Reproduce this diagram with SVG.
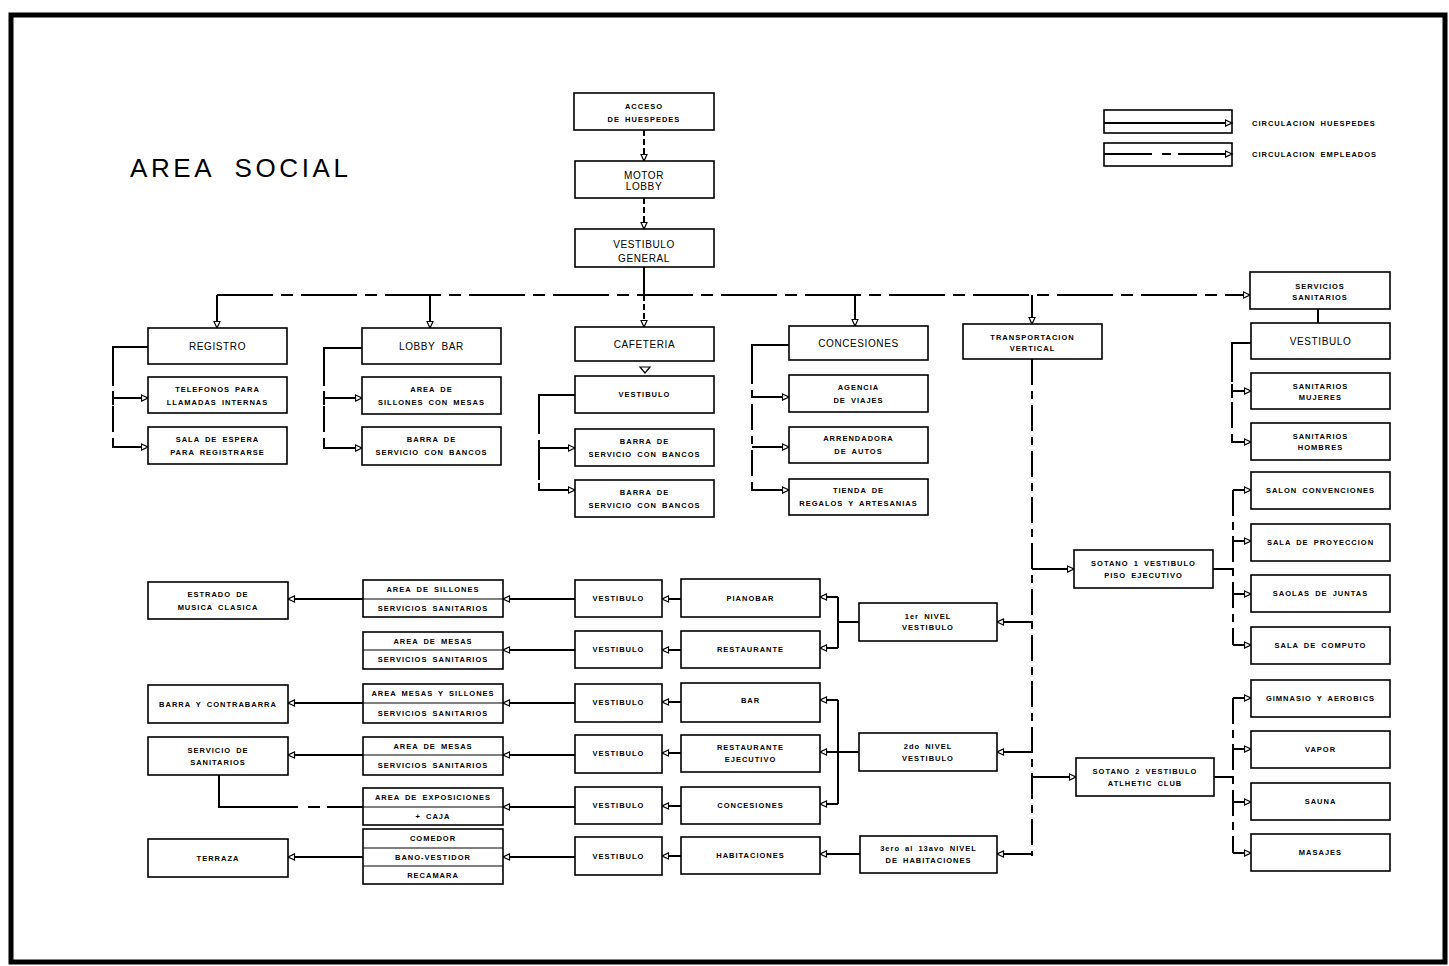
<svg xmlns="http://www.w3.org/2000/svg" width="1449" height="966" viewBox="0 0 1449 966">
<style>
.b{fill:#fff;stroke:#000;stroke-width:1.6}
.dv{stroke:#000;stroke-width:1.2}
.s{font-family:"Liberation Sans",Arial,sans-serif;font-size:7.5px;font-weight:bold;letter-spacing:1px;word-spacing:2px;text-anchor:middle;fill:#000}
.l{font-family:"Liberation Sans",Arial,sans-serif;font-size:10px;letter-spacing:.6px;word-spacing:3px;text-anchor:middle;fill:#000}
.c{fill:none;stroke:#000;stroke-width:2}
.a{marker-end:url(#ar)}
.d{stroke-dasharray:56 8 12 8}
.dv2{stroke-dasharray:26 6 8 6}
.ds{stroke-dasharray:6 3}
.tk{stroke:#000;stroke-width:2}
</style>
<defs>
<marker id="ar" markerUnits="userSpaceOnUse" markerWidth="9" markerHeight="9" refX="7.5" refY="4" orient="auto">
<path d="M1,1 L7.5,4 L1,7 Z" fill="#fff" stroke="#000" stroke-width="1.2"/>
</marker>
</defs>
<rect x="0" y="0" width="1449" height="966" fill="#fff"/>
<rect id="border" x="11" y="15" width="1434" height="947" fill="none" stroke="#000" stroke-width="5"/>
<text id="title" x="130" y="177" font-family="'Liberation Sans',Arial,sans-serif" font-size="26" letter-spacing="3.6" word-spacing="10" fill="#000">AREA SOCIAL</text>

<g id="legend">
<rect class="b" x="1104" y="110" width="128" height="23"/>
<path class="c a" d="M1104,123 H1232"/>
<rect class="b" x="1104" y="143" width="128" height="23"/>
<path class="c" d="M1104,154 H1152 M1162,154 H1171"/>
<path class="c a" d="M1178,154 H1232"/>
<text class="s" x="1252" y="126" style="text-anchor:start">CIRCULACION HUESPEDES</text>
<text class="s" x="1252" y="157" style="text-anchor:start">CIRCULACION EMPLEADOS</text>
</g>

<g id="connectors">
<path class="c a ds" d="M644,130 V161"/>
<path class="c a ds" d="M644,198 V229"/>
<path class="c" d="M644,267 V295"/>
<path class="c d a" d="M217,295 H1250"/>
<path class="c a" d="M217,295 V328"/>
<path class="c a" d="M430,295 V328"/>
<path class="c a ds" d="M644,295 V327"/>
<path class="c a" d="M855,295 V326"/>
<path class="c a" d="M1032,295 V324"/>
<!-- registro -->
<path class="c" d="M148,347 H113 V360"/>
<path class="c dv2" d="M113,360 V440"/>
<path class="c a" d="M113,440 V447 H148"/>
<path class="c a" d="M113,398 H148"/>
<path class="tk" d="M113,391 V405"/>
<!-- lobby bar -->
<path class="c" d="M362,348 H324 V360"/>
<path class="c dv2" d="M324,360 V441"/>
<path class="c a" d="M324,441 V448 H362"/>
<path class="c a" d="M324,398 H362"/>
<path class="tk" d="M324,391 V405"/>
<!-- cafeteria -->
<path d="M640,367 H650 L645,373 Z" fill="#fff" stroke="#000" stroke-width="1.2"/>
<path class="c" d="M575,395 H539 V408"/>
<path class="c dv2" d="M539,408 V483"/>
<path class="c a" d="M539,483 V490 H575"/>
<path class="c a" d="M539,448 H575"/>
<path class="tk" d="M539,441 V455"/>
<!-- concesiones -->
<path class="c" d="M789,345 H752 V358"/>
<path class="c dv2" d="M752,358 V483"/>
<path class="c a" d="M752,483 V490 H789"/>
<path class="c a" d="M752,397 H789"/>
<path class="c a" d="M752,447 H789"/>
<!-- servicios sanitarios -->
<path class="c" d="M1318,309 V323"/>
<path class="c" d="M1251,343 H1232 V356"/>
<path class="c dv2" d="M1232,356 V435"/>
<path class="c a" d="M1232,435 V442 H1251"/>
<path class="c a" d="M1232,391 H1251"/>
<path class="tk" d="M1232,384 V398"/>
<!-- transportacion vertical bus -->
<path class="c dv2" d="M1032,359 V856"/>
<!-- sotano 1 -->
<path class="c a" d="M1032,569 H1074"/>
<path class="c" d="M1213,569 H1233"/>
<path class="c dv2" d="M1233,490 V645"/>
<path class="c a" d="M1233,490 H1251"/>
<path class="c a" d="M1233,541 H1251"/>
<path class="c a" d="M1233,594 H1251"/>
<path class="c a" d="M1233,645 H1251"/>
<!-- sotano 2 -->
<path class="c a" d="M1032,777 H1076"/>
<path class="c" d="M1214,777 H1233"/>
<path class="c dv2" d="M1233,698 V853"/>
<path class="c a" d="M1233,698 H1251"/>
<path class="c a" d="M1233,749 H1251"/>
<path class="c a" d="M1233,802 H1251"/>
<path class="c a" d="M1233,853 H1251"/>
<!-- 1er nivel -->
<path class="c a" d="M1032,622 H997"/>
<path class="c" d="M859,622 H838"/>
<path class="c" d="M838,597 V648"/>
<path class="c a" d="M838,597 H820"/>
<path class="c a" d="M838,648 H820"/>
<!-- 2do nivel -->
<path class="c a" d="M1032,752 H997"/>
<path class="c" d="M859,752 H838"/>
<path class="c" d="M838,700 V804"/>
<path class="c a" d="M838,700 H820"/>
<path class="c a" d="M838,752 H820"/>
<path class="c a" d="M838,804 H820"/>
<!-- 3ero nivel -->
<path class="c a" d="M1032,854 H997"/>
<path class="c a" d="M860,854 H820"/>
<!-- venues to vestibulos -->
<path class="c a" d="M681,599 H662"/>
<path class="c a" d="M681,650 H662"/>
<path class="c a" d="M681,702 H662"/>
<path class="c a" d="M681,753 H662"/>
<path class="c a" d="M681,806 H662"/>
<path class="c a" d="M681,856 H662"/>
<!-- vestibulos to areas -->
<path class="c a" d="M575,599 H503"/>
<path class="c a" d="M575,650 H503"/>
<path class="c a" d="M575,703 H503"/>
<path class="c a" d="M575,755 H503"/>
<path class="c a" d="M575,807 H503"/>
<path class="c a" d="M575,857 H503"/>
<!-- areas to left boxes -->
<path class="c a" d="M363,599 H288"/>
<path class="c a" d="M363,703 H288"/>
<path class="c a" d="M363,755 H288"/>
<path class="c a" d="M363,857 H288"/>
<path class="c" d="M219,775 V807 H298 M308,807 H320 M327,807 H363"/>
</g>

<g id="n-acceso"><rect class="b" x="574" y="93" width="140" height="37"/><text class="s" x="644" y="108.5">ACCESO</text><text class="s" x="644" y="121.5">DE HUESPEDES</text></g>
<g id="n-motor"><rect class="b" x="575" y="161" width="139" height="37"/><text class="l" x="644" y="178.5">MOTOR</text><text class="l" x="644" y="189.5">LOBBY</text></g>
<g id="n-vestgen"><rect class="b" x="575" y="229" width="139" height="38"/><text class="l" x="644" y="247.5">VESTIBULO</text><text class="l" x="644" y="261.5">GENERAL</text></g>

<g id="n-registro"><rect class="b" x="148" y="328" width="139" height="36"/><text class="l" x="217.5" y="349.6">REGISTRO</text></g>
<g id="n-telefonos"><rect class="b" x="148" y="377" width="139" height="36"/><text class="s" x="217.5" y="391.5">TELEFONOS PARA</text><text class="s" x="217.5" y="404.5">LLAMADAS INTERNAS</text></g>
<g id="n-salaespera"><rect class="b" x="148" y="427" width="139" height="37"/><text class="s" x="217.5" y="441.5">SALA DE ESPERA</text><text class="s" x="217.5" y="454.5">PARA REGISTRARSE</text></g>

<g id="n-lobbybar"><rect class="b" x="362" y="328" width="139" height="36"/><text class="l" x="431.5" y="349.6">LOBBY BAR</text></g>
<g id="n-areasillones"><rect class="b" x="362" y="377" width="139" height="37"/><text class="s" x="431.5" y="391.5">AREA DE</text><text class="s" x="431.5" y="404.5">SILLONES CON MESAS</text></g>
<g id="n-barra1"><rect class="b" x="362" y="427" width="139" height="38"/><text class="s" x="431.5" y="442">BARRA DE</text><text class="s" x="431.5" y="455">SERVICIO CON BANCOS</text></g>

<g id="n-cafeteria"><rect class="b" x="575" y="327" width="139" height="34"/><text class="l" x="644.5" y="347.6">CAFETERIA</text></g>
<g id="n-cafvest"><rect class="b" x="575" y="376" width="139" height="37"/><text class="s" x="644.5" y="397">VESTIBULO</text></g>
<g id="n-cafbarra1"><rect class="b" x="575" y="429" width="139" height="37"/><text class="s" x="644.5" y="443.5">BARRA DE</text><text class="s" x="644.5" y="456.5">SERVICIO CON BANCOS</text></g>
<g id="n-cafbarra2"><rect class="b" x="575" y="480" width="139" height="37"/><text class="s" x="644.5" y="494.5">BARRA DE</text><text class="s" x="644.5" y="507.5">SERVICIO CON BANCOS</text></g>

<g id="n-concesiones"><rect class="b" x="789" y="326" width="139" height="34"/><text class="l" x="858.5" y="346.6">CONCESIONES</text></g>
<g id="n-agencia"><rect class="b" x="789" y="375" width="139" height="37"/><text class="s" x="858.5" y="389.5">AGENCIA</text><text class="s" x="858.5" y="402.5">DE VIAJES</text></g>
<g id="n-arrendadora"><rect class="b" x="789" y="427" width="139" height="36"/><text class="s" x="858.5" y="441">ARRENDADORA</text><text class="s" x="858.5" y="454">DE AUTOS</text></g>
<g id="n-tienda"><rect class="b" x="789" y="479" width="139" height="36"/><text class="s" x="858.5" y="493">TIENDA DE</text><text class="s" x="858.5" y="506">REGALOS Y ARTESANIAS</text></g>

<g id="n-transporte"><rect class="b" x="963" y="324" width="139" height="35"/><text class="s" x="1032.5" y="339.5">TRANSPORTACION</text><text class="s" x="1032.5" y="350.5">VERTICAL</text></g>

<g id="n-servsan"><rect class="b" x="1250" y="272" width="140" height="37"/><text class="s" x="1320" y="288.5">SERVICIOS</text><text class="s" x="1320" y="299.5">SANITARIOS</text></g>
<g id="n-vestR"><rect class="b" x="1251" y="323" width="139" height="36"/><text class="l" x="1320.5" y="344.6">VESTIBULO</text></g>
<g id="n-mujeres"><rect class="b" x="1251" y="373" width="139" height="36"/><text class="s" x="1320.5" y="389">SANITARIOS</text><text class="s" x="1320.5" y="400">MUJERES</text></g>
<g id="n-hombres"><rect class="b" x="1251" y="423" width="139" height="37"/><text class="s" x="1320.5" y="439">SANITARIOS</text><text class="s" x="1320.5" y="450">HOMBRES</text></g>
<g id="n-salon"><rect class="b" x="1251" y="472" width="139" height="37"/><text class="s" x="1320.5" y="493">SALON CONVENCIONES</text></g>
<g id="n-proyeccion"><rect class="b" x="1251" y="524" width="139" height="37"/><text class="s" x="1320.5" y="545">SALA DE PROYECCION</text></g>
<g id="n-juntas"><rect class="b" x="1251" y="575" width="139" height="37"/><text class="s" x="1320.5" y="596">SAOLAS DE JUNTAS</text></g>
<g id="n-computo"><rect class="b" x="1251" y="627" width="139" height="37"/><text class="s" x="1320.5" y="648">SALA DE COMPUTO</text></g>
<g id="n-gimnasio"><rect class="b" x="1251" y="680" width="139" height="37"/><text class="s" x="1320.5" y="701">GIMNASIO Y AEROBICS</text></g>
<g id="n-vapor"><rect class="b" x="1251" y="731" width="139" height="37"/><text class="s" x="1320.5" y="752">VAPOR</text></g>
<g id="n-sauna"><rect class="b" x="1251" y="783" width="139" height="37"/><text class="s" x="1320.5" y="804">SAUNA</text></g>
<g id="n-masajes"><rect class="b" x="1251" y="834" width="139" height="37"/><text class="s" x="1320.5" y="855">MASAJES</text></g>

<g id="n-sotano1"><rect class="b" x="1074" y="550" width="139" height="38"/><text class="s" x="1143.5" y="566">SOTANO 1 VESTIBULO</text><text class="s" x="1143.5" y="577.5">PISO EJECUTIVO</text></g>
<g id="n-sotano2"><rect class="b" x="1076" y="758" width="138" height="38"/><text class="s" x="1145" y="774">SOTANO 2 VESTIBULO</text><text class="s" x="1145" y="785.5">ATLHETIC CLUB</text></g>

<g id="n-nivel1"><rect class="b" x="859" y="603" width="138" height="38"/><text class="s" x="928" y="618.5">1er NIVEL</text><text class="s" x="928" y="630">VESTIBULO</text></g>
<g id="n-nivel2"><rect class="b" x="859" y="733" width="138" height="38"/><text class="s" x="928" y="748.5">2do NIVEL</text><text class="s" x="928" y="760.5">VESTIBULO</text></g>
<g id="n-nivel3"><rect class="b" x="860" y="836" width="137" height="37"/><text class="s" x="928.5" y="851">3ero al 13avo NIVEL</text><text class="s" x="928.5" y="863">DE HABITACIONES</text></g>

<g id="n-pianobar"><rect class="b" x="681" y="579" width="139" height="38"/><text class="s" x="750.5" y="600.5">PIANOBAR</text></g>
<g id="n-restaurante"><rect class="b" x="681" y="631" width="139" height="37"/><text class="s" x="750.5" y="652">RESTAURANTE</text></g>
<g id="n-bar"><rect class="b" x="681" y="683" width="139" height="39"/><text class="s" x="750.5" y="703">BAR</text></g>
<g id="n-restej"><rect class="b" x="681" y="735" width="139" height="37"/><text class="s" x="750.5" y="749.5">RESTAURANTE</text><text class="s" x="750.5" y="761.5">EJECUTIVO</text></g>
<g id="n-conc2"><rect class="b" x="681" y="787" width="139" height="37"/><text class="s" x="750.5" y="808">CONCESIONES</text></g>
<g id="n-habitaciones"><rect class="b" x="681" y="837" width="139" height="37"/><text class="s" x="750.5" y="858">HABITACIONES</text></g>

<g id="n-vest1"><rect class="b" x="575" y="580" width="87" height="37"/><text class="s" x="618.5" y="601">VESTIBULO</text></g>
<g id="n-vest2"><rect class="b" x="575" y="631" width="87" height="37"/><text class="s" x="618.5" y="652">VESTIBULO</text></g>
<g id="n-vest3"><rect class="b" x="575" y="684" width="87" height="38"/><text class="s" x="618.5" y="705">VESTIBULO</text></g>
<g id="n-vest4"><rect class="b" x="575" y="735" width="87" height="38"/><text class="s" x="618.5" y="756">VESTIBULO</text></g>
<g id="n-vest5"><rect class="b" x="575" y="787" width="87" height="37"/><text class="s" x="618.5" y="808">VESTIBULO</text></g>
<g id="n-vest6"><rect class="b" x="575" y="837" width="87" height="38"/><text class="s" x="618.5" y="858.5">VESTIBULO</text></g>

<g id="n-area1"><rect class="b" x="363" y="580" width="140" height="37"/><path class="dv" d="M363,599 H503"/><text class="s" x="433" y="592">AREA DE SILLONES</text><text class="s" x="433" y="610.5">SERVICIOS SANITARIOS</text></g>
<g id="n-area2"><rect class="b" x="363" y="632" width="140" height="37"/><path class="dv" d="M363,650 H503"/><text class="s" x="433" y="643.5">AREA DE MESAS</text><text class="s" x="433" y="662">SERVICIOS SANITARIOS</text></g>
<g id="n-area3"><rect class="b" x="363" y="684" width="140" height="39"/><path class="dv" d="M363,703 H503"/><text class="s" x="433" y="696">AREA MESAS Y SILLONES</text><text class="s" x="433" y="715.5">SERVICIOS SANITARIOS</text></g>
<g id="n-area4"><rect class="b" x="363" y="737" width="140" height="38"/><path class="dv" d="M363,755 H503"/><text class="s" x="433" y="748.5">AREA DE MESAS</text><text class="s" x="433" y="767.5">SERVICIOS SANITARIOS</text></g>
<g id="n-area5"><rect class="b" x="363" y="788" width="140" height="37"/><path class="dv" d="M363,807 H503"/><text class="s" x="433" y="800">AREA DE EXPOSICIONES</text><text class="s" x="433" y="818.5">+ CAJA</text></g>
<g id="n-area6"><rect class="b" x="363" y="829" width="140" height="55"/><path class="dv" d="M363,848 H503 M363,866 H503"/><text class="s" x="433" y="841">COMEDOR</text><text class="s" x="433" y="859.5">BANO-VESTIDOR</text><text class="s" x="433" y="877.5">RECAMARA</text></g>

<g id="n-estrado"><rect class="b" x="148" y="582" width="140" height="37"/><text class="s" x="218" y="596.5">ESTRADO DE</text><text class="s" x="218" y="609.5">MUSICA CLASICA</text></g>
<g id="n-barracont"><rect class="b" x="148" y="685" width="140" height="38"/><text class="s" x="218" y="706.5">BARRA Y CONTRABARRA</text></g>
<g id="n-servsanit"><rect class="b" x="148" y="737" width="140" height="38"/><text class="s" x="218" y="752.5">SERVICIO DE</text><text class="s" x="218" y="764.5">SANITARIOS</text></g>
<g id="n-terraza"><rect class="b" x="148" y="839" width="140" height="38"/><text class="s" x="218" y="860.5">TERRAZA</text></g>
</svg>
